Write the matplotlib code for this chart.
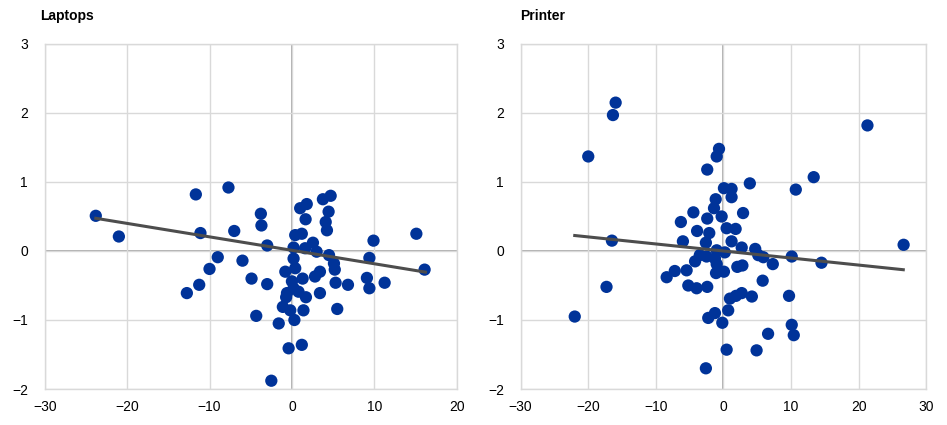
import matplotlib
matplotlib.use("Agg")
import matplotlib.pyplot as plt
import numpy as np

plt.rcParams['font.family'] = ['Liberation Sans', 'DejaVu Sans']

# ====================== DATA ======================
laptops_x = [-23.8, -21.0, -11.66, -7.7, -11.1, -7.0, -3.77, -3.7, -3.0, -9.0,
             -10.0, -6.0, -11.25, -12.75, -4.9, -3.0, -4.33, -1.6, -0.4, 1.2,
             -2.5, 1.0, 1.8, 1.66, 3.76, 4.7, 4.45, 4.1, 4.25, 0.4,
             1.2, 2.55, 0.2, 1.6, 3.0, 4.5, 0.2, 5.1, 5.2, 0.4,
             -0.8, 1.3, 3.4, 2.8, 0.0, 0.2, -0.6, 0.8, 1.7, -0.7,
             -1.1, -0.2, 1.4, 0.3, 3.4, 5.3, 6.8, 5.5, 9.9, 9.4,
             9.1, 9.4, 11.25, 15.1, 16.1]
laptops_y = [0.51, 0.21, 0.82, 0.92, 0.26, 0.29, 0.54, 0.37, 0.08, -0.09,
             -0.26, -0.14, -0.49, -0.61, -0.40, -0.48, -0.94, -1.05, -1.41, -1.36,
             -1.88, 0.62, 0.68, 0.46, 0.75, 0.80, 0.57, 0.42, 0.30, 0.23,
             0.25, 0.12, 0.05, 0.04, -0.01, -0.06, -0.11, -0.18, -0.27, -0.25,
             -0.30, -0.40, -0.30, -0.37, -0.44, -0.54, -0.61, -0.59, -0.67, -0.67,
             -0.81, -0.86, -0.86, -1.00, -0.61, -0.46, -0.49, -0.84, 0.15, -0.10,
             -0.39, -0.54, -0.46, 0.25, -0.27]

printer_x = [-15.95, -16.35, -20.0, 21.3, 26.65, 13.35, 10.7, 3.9, -0.66, -1.0,
             -2.4, 0.07, 1.2, 1.2, -1.15, -1.4, -4.45, 2.9, -0.27, -2.4,
             -6.3, -3.9, -2.1, 0.47, 1.8, -6.0, -16.5, -2.6, 1.2, 2.7,
             4.7, -1.0, 0.2, -3.5, -4.2, -2.5, -1.26, 5.15, 5.9, 7.3,
             10.1, 14.5, -5.45, -7.2, -8.4, -1.0, -1.1, 0.07, 2.05, 2.8,
             5.8, -17.3, -5.2, -3.97, -2.4, 0.96, 2.7, 1.85, 4.2, 9.7,
             -22.0, -2.25, -1.26, 0.7, -0.17, 10.1, 10.4, 6.6, 0.47, 4.9,
             -2.6]
printer_y = [2.15, 1.97, 1.37, 1.82, 0.09, 1.07, 0.89, 0.98, 1.48, 1.37,
             1.18, 0.91, 0.90, 0.78, 0.75, 0.62, 0.56, 0.55, 0.50, 0.47,
             0.42, 0.29, 0.26, 0.33, 0.32, 0.14, 0.15, 0.12, 0.14, 0.05,
             0.03, 0.01, -0.02, -0.06, -0.15, -0.08, -0.11, -0.06, -0.09, -0.19,
             -0.08, -0.17, -0.28, -0.29, -0.38, -0.19, -0.32, -0.30, -0.23, -0.21,
             -0.43, -0.52, -0.50, -0.54, -0.52, -0.69, -0.61, -0.65, -0.66, -0.65,
             -0.95, -0.97, -0.90, -0.86, -1.04, -1.07, -1.22, -1.20, -1.43, -1.44,
             -1.70]

# trend lines (start/end x, slope, intercept)
laptops_trend = (-23.8, 16.2, -0.0195, 0.01)
printer_trend = (-22.0, 26.6, -0.0102, 0.0)

panels = [
    ("Laptops", laptops_x, laptops_y, laptops_trend, (-30, 20)),
    ("Printer", printer_x, printer_y, printer_trend, (-30, 30)),
]

# ====================== PLOT ======================
fig = plt.figure(figsize=(9.47, 4.25), dpi=100)
positions = [[0.0472, 0.0847, 0.4351, 0.8118], [0.5498, 0.0847, 0.4283, 0.8118]]
title_x = [40 / 947, 520 / 947]

for (title, xs, ys, trend, xlim), pos, tx in zip(panels, positions, title_x):
    ax = fig.add_axes(pos)
    ax.set_xlim(*xlim)
    ax.set_ylim(-2, 3)
    ax.set_xticks(np.arange(xlim[0], xlim[1] + 1, 10))
    ax.set_yticks(np.arange(-2, 4, 1))
    ax.grid(True, color='#d9d9d9', linewidth=1.0, zorder=0)
    ax.axhline(0, color='#a6a6a6', linewidth=1.3, zorder=1)
    ax.axvline(0, color='#a6a6a6', linewidth=1.3, zorder=1)
    for s in ax.spines.values():
        s.set_color('#d9d9d9')
        s.set_linewidth(1.0)
    ax.tick_params(length=0, labelsize=10, pad=8, colors='black')
    ax.tick_params(axis='y', pad=12)

    ax.scatter(xs, ys, s=78, color='#003399', edgecolors='none', zorder=3)
    x0, x1, slope, icpt = trend
    lx = np.array([x0, x1])
    ax.plot(lx, slope * lx + icpt, color='#4d4d4d', linewidth=2.2, zorder=4)

    fig.text(tx, 1 - 16 / 425, title, fontsize=10, fontweight='bold', va='center', ha='left')

plt.savefig("out.png", dpi=100)
